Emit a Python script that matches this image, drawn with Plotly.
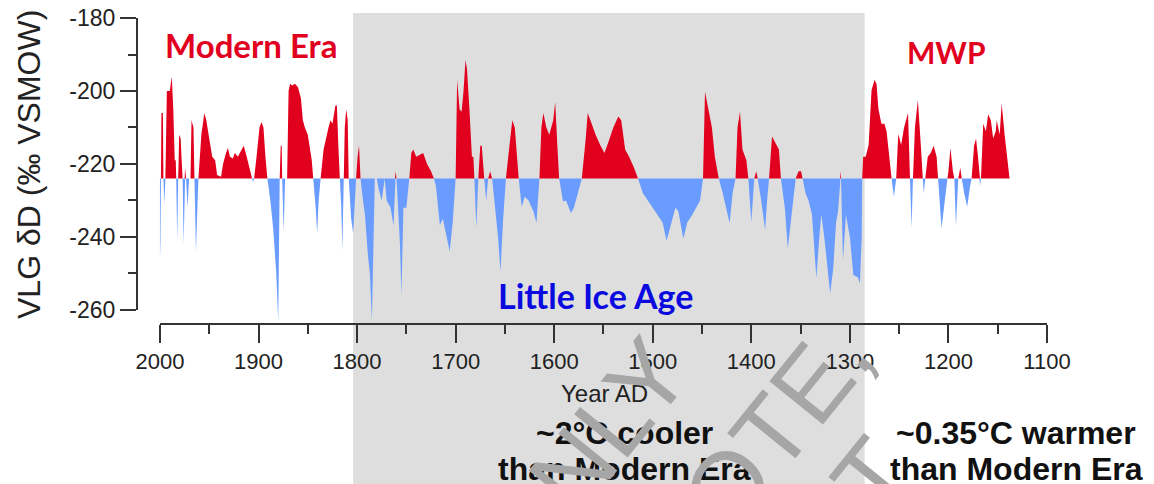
import numpy as np
import plotly.graph_objects as go

# VLG deltaD record (per mil VSMOW), newest first
years = [2000, 1999.5, 1999, 1998.5, 1997, 1996.5, 1995.5, 1994.5, 1993, 1990, 1988, 1986.5, 1985, 1984,
         1983.5, 1982.5, 1981.5, 1980.5, 1979, 1978, 1977, 1976, 1975, 1974.5, 1973.5, 1972, 1970.5, 1969,
         1968, 1966, 1965, 1963.5, 1961, 1960, 1958, 1955, 1953, 1950, 1947, 1944, 1942, 1938, 1936, 1933,
         1931, 1929, 1926, 1924, 1921, 1918, 1915, 1912, 1909, 1906.5, 1905.5, 1904.5, 1902, 1899, 1897,
         1895, 1893, 1891, 1888, 1885, 1882, 1880, 1878.5, 1877.5, 1876.5, 1876, 1874.5, 1873, 1871, 1869.5,
         1868, 1866, 1863, 1860, 1857, 1855, 1853, 1850, 1848, 1846, 1844.5, 1842, 1840.5, 1839, 1837, 1834,
         1831, 1829, 1827, 1825, 1822, 1820.5, 1819, 1817.5, 1816, 1815, 1813.5, 1812.5, 1811, 1809.5,
         1808.5, 1806, 1804, 1801, 1799.5, 1798, 1796.5, 1794, 1792, 1789, 1787, 1785, 1783.5, 1782, 1780,
         1778, 1775, 1772, 1770, 1766, 1763, 1761.5, 1761, 1760, 1756.5, 1755, 1753, 1750, 1747, 1745, 1743,
         1740, 1736, 1733, 1729, 1725, 1722, 1720, 1716, 1713, 1708, 1706, 1703, 1700, 1698.5, 1696, 1694,
         1692, 1690, 1688.5, 1686, 1683.5, 1682, 1681, 1679, 1677, 1675, 1673.5, 1671, 1669, 1667, 1665,
         1663, 1660, 1657, 1654.5, 1652, 1649, 1645, 1642.5, 1640, 1637, 1636, 1633, 1630, 1626, 1621, 1618,
         1615, 1613, 1611, 1608, 1605, 1601, 1599, 1597, 1595, 1591, 1588, 1583, 1580, 1576, 1572, 1568,
         1566, 1562, 1558, 1553, 1549, 1545, 1540, 1535, 1532, 1528, 1524, 1519, 1515, 1510, 1505, 1500,
         1495, 1490, 1486, 1483, 1481, 1477, 1474, 1469, 1465, 1460, 1456, 1452, 1449, 1447, 1444, 1440,
         1437, 1434, 1433, 1429, 1424, 1422, 1419, 1416, 1414, 1411.5, 1409, 1405, 1403, 1400, 1398, 1397,
         1395, 1393.5, 1390, 1386, 1384, 1382, 1379, 1376, 1372, 1370, 1366, 1363, 1360, 1357, 1355, 1352,
         1349.5, 1348, 1345, 1342, 1338.5, 1336, 1334, 1331, 1329, 1326, 1323.5, 1320, 1317, 1314, 1312,
         1310, 1309.5, 1309, 1307, 1304, 1300, 1296.5, 1292, 1289.8, 1288, 1287.5, 1286.5, 1284, 1281, 1278,
         1275, 1273, 1271, 1268, 1265, 1262.8, 1260, 1257.7, 1255.3, 1253, 1250.9, 1248, 1245, 1241, 1239,
         1237.4, 1236, 1234, 1231, 1228, 1226, 1225, 1223.5, 1221, 1218, 1215, 1212, 1210.5, 1207, 1204,
         1201, 1200, 1198, 1195.5, 1194, 1192.4, 1190, 1188, 1186.5, 1184, 1181, 1178, 1176.5, 1174, 1172,
         1170, 1168.5, 1168, 1167, 1164.7, 1162, 1159.7, 1157, 1154.6, 1152, 1151, 1148, 1146, 1143, 1140,
         1138]
dD = [-246, -241, -224, -206, -206, -224, -231, -224, -200, -200, -196, -205, -219, -219,
      -224, -241, -224, -212, -213, -219, -224, -242, -224, -221, -224, -232, -224, -224,
      -208, -210, -224, -244, -224, -220, -212, -206, -208, -213, -218, -219, -223, -223.5, -220, -217,
      -215.6, -218, -218.5, -217, -218, -216.5, -215, -218, -221, -224, -225, -224, -218, -210, -208.5,
      -210, -218, -224, -230, -238, -250, -263, -224, -215, -215, -224, -238.5, -224, -224, -200,
      -198, -198.5, -198, -199, -202, -208, -210, -212, -215, -219, -224, -232, -239, -230, -224, -216,
      -212, -210, -208, -209, -204, -204, -215, -224, -232, -243.6, -224, -210, -205, -208,
      -224, -235, -239, -224, -218, -215, -224, -230, -234, -245, -250, -263, -240, -224, -224,
      -227, -230, -224, -230, -232, -237, -224, -222, -224, -242, -256, -232, -232, -224, -217, -216,
      -218, -217.5, -217, -220, -222, -224, -226, -236.7, -235, -242, -244, -236, -224, -197, -205, -205.7,
      -200, -191.5, -194, -205, -218, -218, -224, -237.5, -224, -215, -215, -224, -230, -224, -222,
      -224, -232, -240, -249.5, -236, -224, -214, -208, -210, -220, -224, -231.8, -229, -230, -233, -236.2,
      -224, -210, -206, -210, -212, -208, -203, -214, -224, -230.3, -230, -233.4, -232, -228, -224, -213,
      -206, -209, -212, -215, -217, -214, -210, -207, -208, -216, -218, -221, -224, -228, -230, -232,
      -234, -236, -241, -238, -236, -232, -233, -240.5, -236, -234, -232, -230, -224, -200.2, -204, -210,
      -218, -222, -224, -228, -234, -236.2, -228, -224, -210, -205.7, -216, -219, -224, -236, -226, -224,
      -222, -224, -230, -238, -230, -224, -212.5, -214, -216, -224, -232, -243.1, -236, -228, -224, -222,
      -222, -224, -228, -230, -233.8, -244, -251.3, -240, -233.8, -240, -247, -255.4, -249, -236, -233,
      -224, -222, -224, -246.3, -234, -240, -250.4, -251, -252.7, -240, -224, -218, -218, -214.8, -199.7,
      -197, -198, -205, -209, -209, -211, -218, -224, -229, -224, -211.8, -214.8, -210, -206, -224,
      -237.6, -224, -210, -202.5, -215, -224, -228, -224, -218, -217, -215, -218, -224, -237.6, -230,
      -224, -222, -215.6, -222, -224, -237, -224, -221, -224, -228, -231.7, -226, -224, -215, -213,
      -218, -224, -226, -224, -209, -211, -206.4, -208, -213, -211, -208, -212, -203.4, -212, -220,
      -224]
baseline = -224

x_ticks = [2000, 1900, 1800, 1700, 1600, 1500, 1400, 1300, 1200, 1100]
x_minor = [1950, 1850, 1750, 1650, 1550, 1450, 1350, 1250, 1150]
y_ticks = [-180, -200, -220, -240, -260]
y_labels = ["-180", "-200", "-220", "-240", "-260"]
y_minor = [-190, -210, -230, -250]

lia_span = [1804, 1285]  # shaded Little Ice Age band

RED = "#E1001E"
BLUE = "#6A9CFF"
AXIS = "#333333"
TXT = "#222222"

W, H = 1154, 484
ML, MR, MT, MB = 137, 107, 13, 160
PW, PH = W - ML - MR, H - MT - MB


def px(x):
    return (x - ML) / PW


def py(y):
    return (H - MB - y) / PH


def note(x, y, text, font, angle=0):
    fig.add_annotation(xref="paper", yref="paper", x=px(x), y=py(y), text=text, textangle=angle,
                       showarrow=False, xanchor="center", yanchor="middle", font=font)


v = np.array(dD)
base = [baseline] * len(years)

fig = go.Figure()
fig.add_trace(go.Scatter(x=years, y=base, mode="lines", line=dict(width=0),
                         hoverinfo="skip", showlegend=False))
fig.add_trace(go.Scatter(x=years, y=np.maximum(v, baseline), mode="lines",
                         line=dict(width=0, color=RED), fill="tonexty", fillcolor=RED,
                         showlegend=False))
fig.add_trace(go.Scatter(x=years, y=base, mode="lines", line=dict(width=0),
                         hoverinfo="skip", showlegend=False))
fig.add_trace(go.Scatter(x=years, y=np.minimum(v, baseline), mode="lines",
                         line=dict(width=0, color=BLUE), fill="tonexty", fillcolor=BLUE,
                         showlegend=False))

# grey band and the two detached axis lines
fig.add_shape(type="rect", xref="x", yref="paper", x0=lia_span[0], x1=lia_span[1], y0=-0.6, y1=1,
              fillcolor="#DEDEDE", line=dict(width=0), layer="below")
fig.add_shape(type="line", xref="paper", yref="y", x0=0, x1=0, y0=y_ticks[0], y1=y_ticks[-1],
              line=dict(color=AXIS, width=2))
fig.add_shape(type="line", xref="x", yref="paper", x0=x_ticks[0], x1=x_ticks[-1], y0=0, y1=0,
              line=dict(color=AXIS, width=2))

fig.update_xaxes(range=[2023.3, 1100], tickvals=x_ticks, ticks="outside", ticklen=18, tickwidth=2,
                 tickcolor=AXIS, showline=False, showgrid=False, zeroline=False, automargin=False,
                 tickfont=dict(size=22, color=TXT),
                 minor=dict(tickvals=x_minor, ticks="outside", ticklen=9, tickwidth=2,
                            tickcolor=AXIS, showgrid=False))
fig.update_yaxes(range=[-263.84, -178.63], tickvals=y_ticks, ticktext=y_labels, ticks="outside",
                 ticklen=16, tickwidth=2, tickcolor=AXIS, showline=False, showgrid=False,
                 zeroline=False, automargin=False, tickfont=dict(size=23, color=TXT),
                 minor=dict(tickvals=y_minor, ticks="outside", ticklen=8, tickwidth=2,
                            tickcolor=AXIS, showgrid=False))

label_font = "Lato, 'Open Sans', sans-serif"
note(251, 45, "<b>Modern Era</b>", dict(family=label_font, size=33, color=RED))
note(946, 52, "<b>MWP</b>", dict(family=label_font, size=30, color=RED))
note(595, 295, "<b>Little Ice Age</b>", dict(family=label_font, size=34, color="#0A0AE0"))

note(29, 165, "VLG δD (‰ VSMOW)", dict(size=32, color=TXT), angle=-90)
note(604, 393, "Year AD", dict(size=24, color=TXT))

for xc, lines in [(624, ["~2°C cooler", "than Modern Era"]),
                  (1016, ["~0.35°C warmer", "than Modern Era"])]:
    for yc, t in zip([433, 469], lines):
        note(xc, yc, "<b>" + t + "</b>", dict(size=32, color="#111111"))

# diagonal watermark
wm = dict(size=100, color="#A6A6A6", family="Liberation Sans, Arial")
for xc, yc, t in [(584, 456, "ONLY"), (754, 454, "NOTE,"), (825, 535, "NOT")]:
    note(xc, yc, t, wm, angle=-51)

fig.update_layout(width=W, height=H, autosize=False,
                  margin=dict(l=ML, r=MR, t=MT, b=MB),
                  paper_bgcolor="white", plot_bgcolor="white",
                  font=dict(family="Liberation Sans, Arial, sans-serif", color=TXT))

fig.write_html("out.html", config={"displayModeBar": False},
               post_script="document.body.style.margin='0';")
